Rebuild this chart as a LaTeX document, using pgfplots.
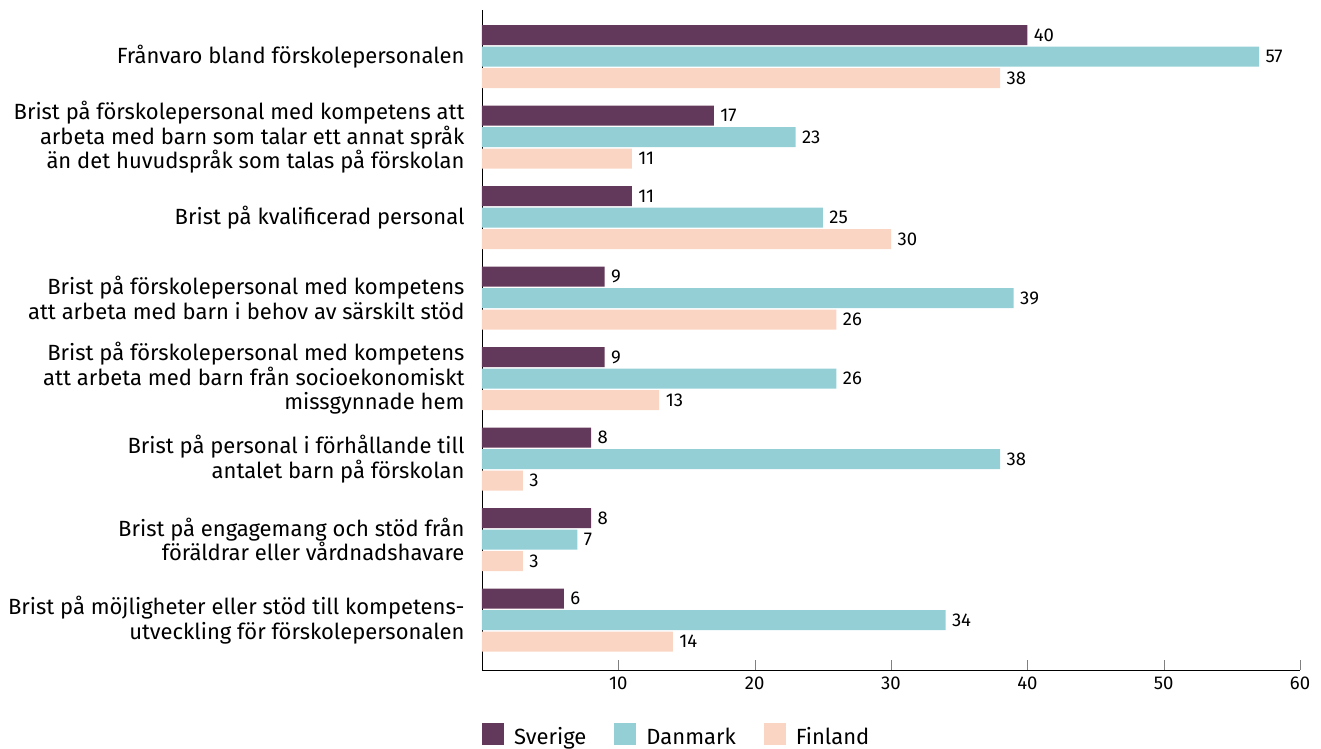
\documentclass[border=0pt]{standalone}
\usepackage{pgfplots}
\pgfplotsset{compat=1.18}
\usepackage{fontspec}
\setmainfont{Fira Sans}
\definecolor{sverige}{HTML}{62395B}
\definecolor{danmark}{HTML}{94CFD6}
\definecolor{finland}{HTML}{FAD5C3}
\begin{document}
\begin{tikzpicture}
  \begin{axis}[
    xbar,
    scale only axis,
    width=818pt, height=660pt,
    xmin=0, xmax=60,
    ymin=0.42, ymax=8.62,
    y dir=reverse,
    bar width=20pt,
    axis x line*=bottom,
    axis y line*=left,
    xtick={10,20,30,40,50,60},
    ytick={1,...,8},
    yticklabels={
      Frånvaro bland förskolepersonalen,
      {Brist på förskolepersonal med kompetens att\\arbeta med barn som talar ett annat språk\\än det huvudspråk som talas på förskolan},
      Brist på kvalificerad personal,
      {Brist på förskolepersonal med kompetens\\att arbeta med barn i behov av särskilt stöd},
      {Brist på förskolepersonal med kompetens\\att arbeta med barn från socioekonomiskt\\missgynnade hem},
      {Brist på personal i förhållande till\\antalet barn på förskolan},
      {Brist på engagemang och stöd från\\föräldrar eller vårdnadshavare},
      {Brist på möjligheter eller stöd till kompetens-\\utveckling för förskolepersonalen}
    },
    y tick label style={align=right, font=\fontsize{22}{24.5}\selectfont, xshift=-14pt},
    x tick label style={font=\fontsize{18.5}{21}\selectfont, yshift=-3pt},
    /pgf/number format/assume math mode=true,
    major y tick style={draw=none},
    major tick length=10pt,
    tick align=inside,
    nodes near coords,
    nodes near coords style={font=\fontsize{18.5}{21}\selectfont, black, xshift=3pt},
    legend style={at={(0,-0.08)}, anchor=north west, draw=none, inner sep=0pt,
      legend columns=3, font=\fontsize{22}{24.5}\selectfont,
      /tikz/every odd column/.append style={column sep=8pt},
      /tikz/every even column/.append style={column sep=26pt}},
    legend image code/.code={\fill[#1] (0pt,-8pt) rectangle (22pt,14pt);},
    clip=false,
  ]
    \addplot[fill=sverige, draw=none, bar shift=21.5pt] coordinates {
      (40,1) (17,2) (11,3) (9,4) (9,5) (8,6) (8,7) (6,8)};
    \addplot[fill=danmark, draw=none, bar shift=0pt] coordinates {
      (57,1) (23,2) (25,3) (39,4) (26,5) (38,6) (7,7) (34,8)};
    \addplot[fill=finland, draw=none, bar shift=-21.5pt] coordinates {
      (38,1) (11,2) (30,3) (26,4) (13,5) (3,6) (3,7) (14,8)};
    \legend{Sverige, Danmark, Finland}
  \end{axis}
  % page margins as in the original
  \path (current axis.north west) ++(-482pt,10pt);
  \path (current axis.south east) ++(21pt,-77pt);
\end{tikzpicture}
\end{document}
